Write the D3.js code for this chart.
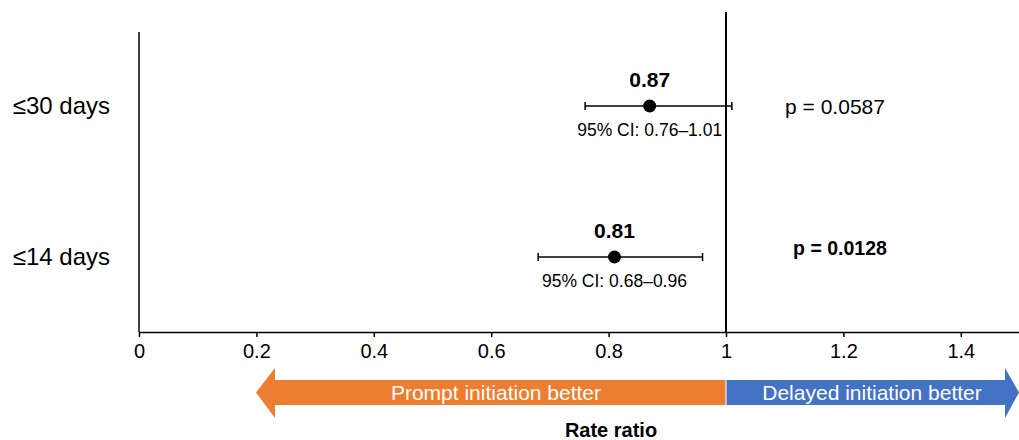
<!DOCTYPE html>
<html>
<head>
<meta charset="utf-8">
<script src="https://cdn.jsdelivr.net/npm/d3@7"></script>
<style>
  body { margin: 0; background: #fff; }
  svg { font-family: "Liberation Sans", Arial, sans-serif; }
</style>
</head>
<body>
<svg></svg>
<script>
let categories = ['≤30 days', '≤14 days']
let estimates = [0.87, 0.81]
let lower = [0.76, 0.68]
let upper = [1.01, 0.96]
let pValues = ['p = 0.0587', 'p = 0.0128']
let pBold = [false, true]
let ciLabels = ['95% CI: 0.76–1.01', '95% CI: 0.68–0.96']
let xTicks = [0, 0.2, 0.4, 0.6, 0.8, 1, 1.2, 1.4]
let arrowLabels = ['Prompt initiation better', 'Delayed initiation better']

let w = 1019
let h = 440

let svg = d3.select('svg').attr('width', w).attr('height', h)

let x = d3.scaleLinear().domain([0, 1.5]).range([139, 1019.5])
let y = d3.scalePoint().domain(categories).range([106, 257])

// x axis
let xAxis = d3.axisBottom(x)
    .tickValues(xTicks)
    .tickSize(5)
    .tickSizeOuter(0)
    .tickPadding(7)
    .tickFormat(d => String(+d.toFixed(1)))
let gx = svg.append('g')
    .attr('transform', 'translate(0,332)')
    .call(xAxis)
gx.select('.domain').attr('stroke', '#000').attr('stroke-width', 1.5)
gx.selectAll('.tick line').attr('stroke', '#000').attr('stroke-width', 1.5)
gx.selectAll('.tick text').attr('font-size', '20px').attr('fill', '#000')
    .attr('font-family', '"Liberation Sans", Arial, sans-serif')

// y axis
let gy = svg.append('g')
    .attr('transform', 'translate(139,0)')
    .call(d3.axisLeft(y).tickSize(0).tickPadding(29))
gy.select('.domain').attr('d', 'M0,32V332').attr('stroke', '#000').attr('stroke-width', 1.5)
gy.selectAll('.tick text').attr('font-size', '24px').attr('fill', '#000')
    .attr('font-family', '"Liberation Sans", Arial, sans-serif')

// reference line at 1
svg.append('line')
    .attr('x1', x(1)).attr('x2', x(1))
    .attr('y1', 12).attr('y2', 332)
    .attr('stroke', '#000').attr('stroke-width', 2)

let rows = svg.selectAll('g.row')
    .data(categories)
    .enter()
    .append('g')
    .attr('class', 'row')

rows.append('line')
    .attr('x1', (d, i) => x(lower[i]))
    .attr('x2', (d, i) => x(upper[i]))
    .attr('y1', d => y(d)).attr('y2', d => y(d))
    .attr('stroke', '#000').attr('stroke-width', 1.5)

rows.append('line')
    .attr('x1', (d, i) => x(lower[i])).attr('x2', (d, i) => x(lower[i]))
    .attr('y1', d => y(d) - 4).attr('y2', d => y(d) + 4)
    .attr('stroke', '#000').attr('stroke-width', 1.5)

rows.append('line')
    .attr('x1', (d, i) => x(upper[i])).attr('x2', (d, i) => x(upper[i]))
    .attr('y1', d => y(d) - 4).attr('y2', d => y(d) + 4)
    .attr('stroke', '#000').attr('stroke-width', 1.5)

rows.append('circle')
    .attr('cx', (d, i) => x(estimates[i]))
    .attr('cy', d => y(d))
    .attr('r', 6.5)
    .attr('fill', '#000')

rows.append('text')
    .attr('x', (d, i) => x(estimates[i]))
    .attr('y', d => y(d) - 19)
    .attr('text-anchor', 'middle')
    .attr('font-size', '21px')
    .attr('font-weight', 'bold')
    .text((d, i) => estimates[i].toFixed(2))

rows.append('text')
    .attr('x', (d, i) => x(estimates[i]))
    .attr('y', d => y(d) + 30)
    .attr('text-anchor', 'middle')
    .attr('font-size', '17.5px')
    .text((d, i) => ciLabels[i])

rows.append('text')
    .attr('x', (d, i) => 835 + (pBold[i] ? 5 : 0))
    .attr('y', (d, i) => y(d) + (pBold[i] ? -2 : 8))
    .attr('text-anchor', 'middle')
    .attr('font-size', (d, i) => pBold[i] ? '19.5px' : '21px')
    .attr('font-weight', (d, i) => pBold[i] ? 'bold' : 'normal')
    .text((d, i) => pValues[i])

// direction arrows
let bandTop = 380, bandBot = 405, headTop = 368, headBot = 418, headLen = 19
let midY = (bandTop + bandBot) / 2
let leftTip = 256
let rightTip = 1019
let mid = x(1)

svg.append('path')
    .attr('d', `M${mid - 0.5},${bandTop} L${leftTip + headLen},${bandTop} L${leftTip + headLen},${headTop} L${leftTip},${midY} L${leftTip + headLen},${headBot} L${leftTip + headLen},${bandBot} L${mid - 0.5},${bandBot} Z`)
    .attr('fill', '#ED7D31')

svg.append('path')
    .attr('d', `M${mid + 0.5},${bandTop} L${rightTip - headLen + 5},${bandTop} L${rightTip - headLen + 5},${headTop} L${rightTip},${midY} L${rightTip - headLen + 5},${headBot} L${rightTip - headLen + 5},${bandBot} L${mid + 0.5},${bandBot} Z`)
    .attr('fill', '#4472C4')

svg.append('text')
    .attr('x', 496).attr('y', midY + 7)
    .attr('text-anchor', 'middle')
    .attr('font-size', '21px')
    .attr('fill', '#fff')
    .text(arrowLabels[0])

svg.append('text')
    .attr('x', 872).attr('y', midY + 7)
    .attr('text-anchor', 'middle')
    .attr('font-size', '21px')
    .attr('fill', '#fff')
    .text(arrowLabels[1])

svg.append('text')
    .attr('x', 611).attr('y', 437)
    .attr('text-anchor', 'middle')
    .attr('font-size', '20px')
    .attr('font-weight', 'bold')
    .text('Rate ratio')
</script>
</body>
</html>
